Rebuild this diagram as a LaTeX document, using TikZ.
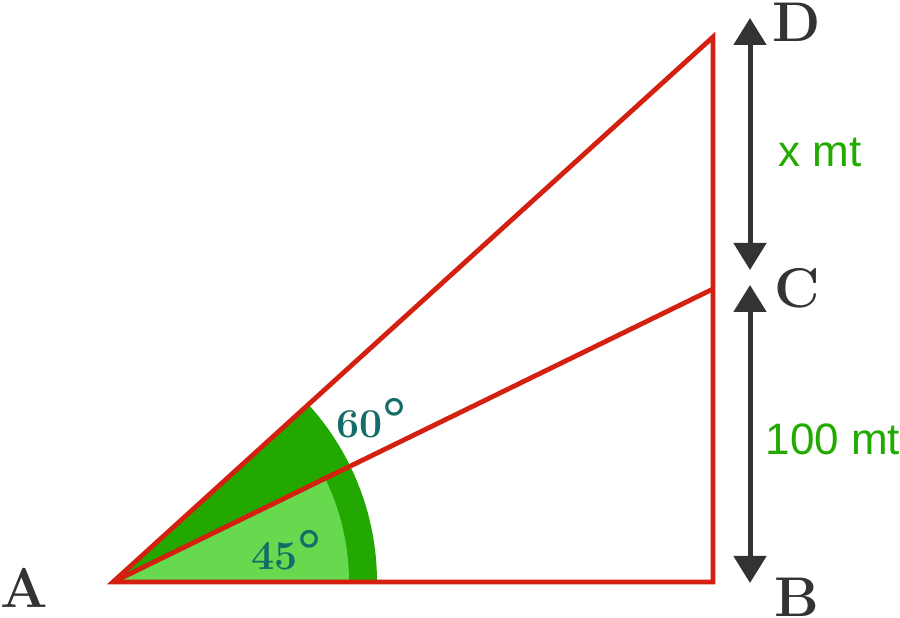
\documentclass[tikz,border=0pt]{standalone}
\usepackage{fontspec}
\newfontfamily\lsans{Liberation Sans}
\usetikzlibrary{arrows.meta}
\definecolor{redl}{HTML}{D42010}
\definecolor{darkg}{HTML}{22A800}
\definecolor{lightg}{HTML}{66D94F}
\definecolor{tealt}{HTML}{146C68}
\definecolor{grayd}{HTML}{333333}
\definecolor{greent}{HTML}{22AA00}
\tikzset{
  redline/.style={draw=redl, line width=4.8pt, miter limit=20},
  dimarrow/.style={draw=grayd, line width=5pt, {Triangle[width=32pt,length=27pt]}-{Triangle[width=32pt,length=27pt]}},
  ptlabel/.style={inner sep=0pt, text=grayd, font=\fontsize{56}{60}\selectfont\bfseries},
  anglabel/.style={inner sep=0pt, anchor=base west, text=tealt, font=\fontsize{41}{44}\selectfont\bfseries},
  dimlabel/.style={inner sep=0pt, anchor=base, text=greent, font=\fontsize{44}{47}\selectfont\lsans}
}
\newcommand{\bigdeg}{{\fontsize{57}{57}\selectfont °}}
\begin{document}
\begin{tikzpicture}[x=1pt,y=1pt]
\useasboundingbox (0,0) rectangle (900,618);
\coordinate (A) at (113,36);
\coordinate (B) at (713,36);
\coordinate (C) at (713,329);
\coordinate (D) at (713,581);
% sectors
\fill[darkg] (A) -- ++(0:264pt) arc[start angle=0, end angle=42.25, radius=264pt] -- cycle;
\fill[lightg] (A) -- ++(0:236pt) arc[start angle=0, end angle=26.03, radius=236pt] -- cycle;
% triangle
\draw[redline] (A) -- (B) -- (D) -- cycle;
\draw[redline] (A) -- (C);
% dimension arrows
\coordinate (d1) at (750,600);
\coordinate (d2) at (750,348);
\coordinate (d3) at (750,333);
\coordinate (d4) at (750,35);
\draw[dimarrow] (d1) -- (d2);
\draw[dimarrow] (d3) -- (d4);
% labels
\node[ptlabel] (lA) at (24,30) {A};
\node[ptlabel] (lB) at (797,21) {B};
\node[ptlabel] (lC) at (797,330) {C};
\node[ptlabel] (lD) at (797,596) {D};
\node[anglabel] (a60) at (336,180) {60\bigdeg};
\node[anglabel] (a45) at (251,48) {45\bigdeg};
\node[dimlabel] (xm) at (820,451) {x mt};
\node[dimlabel] (hm) at (833,163) {100 mt};
\end{tikzpicture}
\end{document}
